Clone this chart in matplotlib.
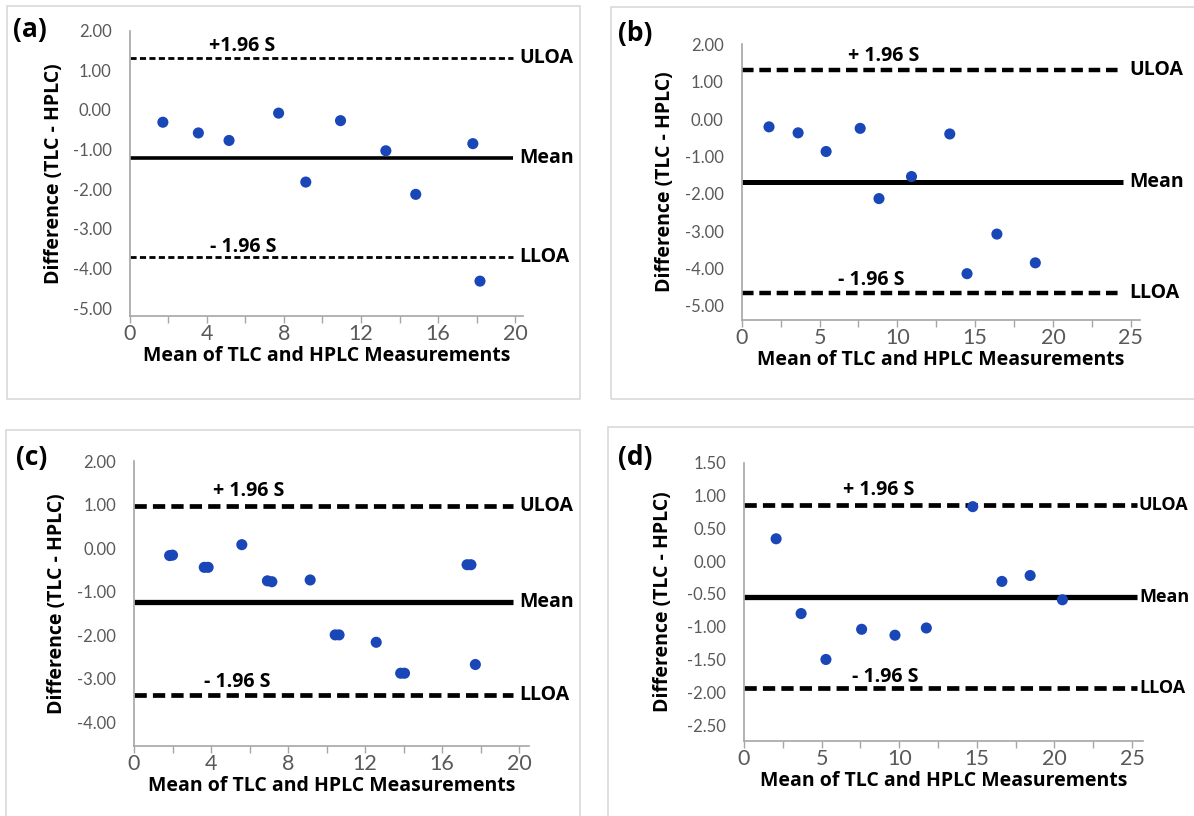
import matplotlib
matplotlib.use('Agg')
import matplotlib.pyplot as plt
from matplotlib.patches import Rectangle

plt.rcParams['font.family'] = ['Lato', 'DejaVu Sans']
BOLD = ['Open Sans', 'DejaVu Sans']

W, H = 1194, 816

# Panel (a)
a_x = [1.73, 3.57, 5.16, 7.73, 9.14, 10.94, 13.29, 14.84, 17.80, 18.17]
a_y = [-0.31, -0.58, -0.77, -0.08, -1.82, -0.27, -1.03, -2.13, -0.85, -4.32]
a_limits = [1.30, -1.22, -3.72]  # ULOA, Mean, LLOA

# Panel (b)
b_x = [1.75, 3.62, 5.42, 7.61, 8.82, 10.91, 13.37, 14.48, 16.40, 18.87]
b_y = [-0.21, -0.37, -0.87, -0.25, -2.13, -1.54, -0.40, -4.14, -3.08, -3.85]
b_limits = [1.31, -1.68, -4.66]

# Panel (c) (several points overlap in pairs)
c_x = [1.85, 2.0, 3.65, 3.85, 5.6, 6.93, 7.16, 9.15, 10.45, 10.65, 12.58, 13.85, 14.05, 17.3, 17.5, 17.73]
c_y = [-0.17, -0.16, -0.44, -0.44, 0.08, -0.75, -0.77, -0.73, -1.99, -1.99, -2.16, -2.87, -2.87, -0.38, -0.38, -2.67]
c_limits = [0.96, -1.23, -3.37]

# Panel (d)
d_x = [2.07, 3.68, 5.28, 7.58, 9.73, 11.75, 14.74, 16.62, 18.44, 20.52]
d_y = [0.34, -0.80, -1.50, -1.04, -1.13, -1.02, 0.83, -0.31, -0.22, -0.59]
d_limits = [0.855, -0.54, -1.94]

limit_names = ['ULOA', 'Mean', 'LLOA']
xlabel = 'Mean of TLC and HPLC Measurements'
ylabel = 'Difference (TLC - HPLC)'

dot_color = '#1a47b8'
tick_color = '#595959'
axis_color = '#a6a6a6'
frame_color = '#d9d9d9'
BFS = 14  # bold text size


def px_rect(left, top, right, bottom):
    return [left / W, 1 - bottom / H, (right - left) / W, (bottom - top) / H]


fig = plt.figure(figsize=(W / 100, H / 100), dpi=100)

# panel frames
for (l, t, r, b) in [(7, 6, 580, 399), (611, 7, 1200, 399), (6, 430, 580, 822), (608, 427, 1200, 822)]:
    fig.patches.append(Rectangle((l / W, 1 - b / H), (r - l) / W, (b - t) / H,
                                 transform=fig.transFigure, fill=False,
                                 edgecolor=frame_color, linewidth=1.2))

panels = [
    dict(x=a_x, y=a_y, lim=a_limits, tag='(a)', rect=(129.5, 30.7, 523, 316),
         xlim=(0, 20.4), ylim=(-5.2, 2.0), xstep=2, yticks=[2, 1, 0, -1, -2, -3, -4, -5],
         line_end=19.9, label_x=20.2, label_fs=BFS, plus='+1.96 S', plus_xy=(5.84, 1.62),
         minus_xy=(5.9, -3.45), dash_lw=2.0, dash=(2.2, 1.2), mean_lw=2.6, ylab_x=54, tag_xy=(30, 29)),
    dict(x=b_x, y=b_y, lim=b_limits, tag='(b)', rect=(741.8, 44.3, 1140, 320),
         xlim=(0, 25.6), ylim=(-5.38, 2.0), xstep=2.5, yticks=[2, 1, 0, -1, -2, -3, -4, -5],
         line_end=24.5, label_x=24.9, label_fs=BFS, plus='+ 1.96 S', plus_xy=(9.1, 1.69),
         minus_xy=(8.3, -4.32), dash_lw=3.2, dash=(2.6, 1.3), mean_lw=3.6, ylab_x=665, tag_xy=(635, 33)),
    dict(x=c_x, y=c_y, lim=c_limits, tag='(c)', rect=(134, 461, 528.7, 746),
         xlim=(0, 20.5), ylim=(-4.54, 2.0), xstep=2, yticks=[2, 1, 0, -1, -2, -3, -4],
         line_end=19.7, label_x=20.0, label_fs=BFS, plus='+ 1.96 S', plus_xy=(5.97, 1.31),
         minus_xy=(5.37, -3.06), dash_lw=3.4, dash=(2.6, 1.3), mean_lw=3.8, ylab_x=57, tag_xy=(32, 458)),
    dict(x=d_x, y=d_y, lim=d_limits, tag='(d)', rect=(744, 462.7, 1142.8, 740.8),
         xlim=(0, 25.7), ylim=(-2.74, 1.5), xstep=2.5, yticks=[1.5, 1, 0.5, 0, -0.5, -1, -1.5, -2, -2.5],
         line_end=25.3, label_x=25.45, label_fs=13, plus='+ 1.96 S', plus_xy=(8.67, 1.08),
         minus_xy=(9.09, -1.76), dash_lw=3.4, dash=(2.6, 1.3), mean_lw=3.8, ylab_x=663, tag_xy=(635, 458)),
]

for p in panels:
    ax = fig.add_axes(px_rect(*p['rect']))
    ax.set_xlim(*p['xlim'])
    ax.set_ylim(*p['ylim'])

    for i, val in enumerate(p['lim']):
        if i == 1:
            ax.plot([0, p['line_end']], [val, val], color='black', lw=p['mean_lw'],
                    solid_capstyle='butt', zorder=2, clip_on=False)
        else:
            ax.plot([0, p['line_end']], [val, val], color='black', lw=p['dash_lw'],
                    linestyle=(0, p['dash']), dash_capstyle='butt', zorder=2, clip_on=False)
        ax.text(p['label_x'], val, limit_names[i], fontsize=p['label_fs'], fontweight='bold',
                family=BOLD, va='center', ha='left', clip_on=False)

    ax.text(p['plus_xy'][0], p['plus_xy'][1], p['plus'], fontsize=BFS, fontweight='bold',
            family=BOLD, ha='center', va='center')
    ax.text(p['minus_xy'][0], p['minus_xy'][1], '- 1.96 S', fontsize=BFS, fontweight='bold',
            family=BOLD, ha='center', va='center')

    ax.scatter(p['x'], p['y'], s=64, color=dot_color, edgecolors='none', zorder=3, clip_on=False)

    # axes styling
    for side in ['top', 'right']:
        ax.spines[side].set_visible(False)
    for side in ['left', 'bottom']:
        ax.spines[side].set_color(axis_color)
        ax.spines[side].set_linewidth(1.2)
    ax.set_facecolor('none')

    n = int(round(p['xlim'][1] // p['xstep'])) + 1
    xt = [k * p['xstep'] for k in range(n)]
    ax.set_xticks(xt)
    ax.set_xticklabels(['%g' % v if k % 2 == 0 else '' for k, v in enumerate(xt)])
    ax.tick_params(axis='x', direction='out', length=5, width=1, color=axis_color,
                   labelcolor=tick_color, labelsize=15.5, pad=1)
    ax.set_yticks(p['yticks'])
    ax.set_yticklabels(['%.2f' % v for v in p['yticks']])
    ax.tick_params(axis='y', length=0, labelcolor=tick_color, labelsize=12, pad=13)

    ax.set_xlabel(xlabel, fontsize=BFS, fontweight='bold', family=BOLD, labelpad=1)

    l, t, r, b = p['rect']
    fig.text(p['ylab_x'] / W, 1 - ((t + b) / 2) / H, ylabel, rotation=90, fontsize=BFS,
             fontweight='bold', family=BOLD, ha='center', va='center')
    fig.text(p['tag_xy'][0] / W, 1 - p['tag_xy'][1] / H, p['tag'], fontsize=19,
             fontweight='bold', family=BOLD, ha='center', va='center')

fig.savefig('out.png', dpi=100)
